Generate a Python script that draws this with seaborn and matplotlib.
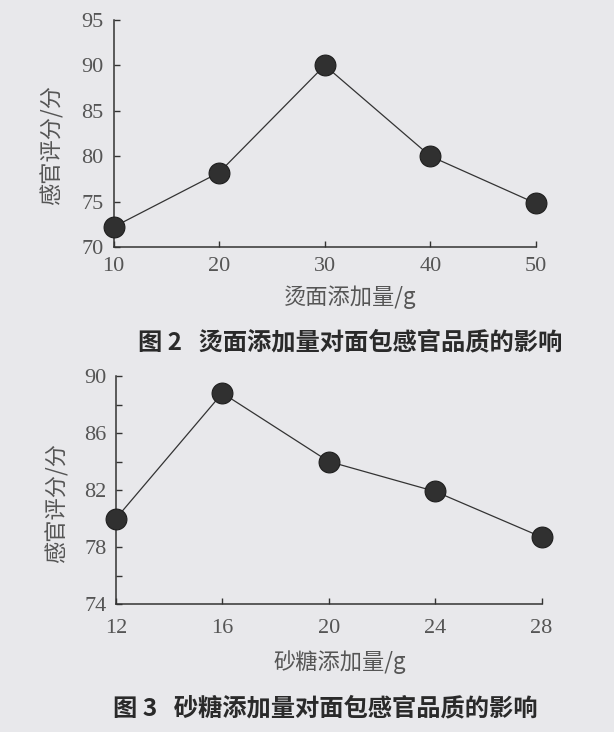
import numpy as np
import pandas as pd
import seaborn as sns
import matplotlib.pyplot as plt

# 图2 烫面添加量 vs 感官评分
hot_dough = [10, 20, 30, 40, 50]
score_hot = [72.2, 78.2, 90.0, 80.0, 74.8]
hot_yticks = [70, 75, 80, 85, 90, 95]

# 图3 砂糖添加量 vs 感官评分
sugar = [12, 16, 20, 24, 28]
score_sugar = [80.0, 88.8, 84.0, 81.9, 78.7]
sugar_yticks = [74, 78, 82, 86, 90]
sugar_minor = [76, 80, 84, 88]

xlabels = ["烫面添加量/g", "砂糖添加量/g"]
ylabel = "感官评分/分"
captions = ["图 2   烫面添加量对面包感官品质的影响", "图 3   砂糖添加量对面包感官品质的影响"]

bg = "#e8e8eb"
sns.set_style("ticks")
plt.rcParams['font.family'] = ['Noto Sans CJK SC', 'DejaVu Sans']

fig = plt.figure(figsize=(6.14, 7.32), dpi=100, facecolor=bg)
W, H = 614, 732

def make_axes(left, right, top, bottom):
    return fig.add_axes([left / W, 1 - bottom / H, (right - left) / W, (bottom - top) / H])

ax1 = make_axes(113.5, 536, 20, 247)
ax2 = make_axes(116, 541.5, 376, 604)

df1 = pd.DataFrame({"x": hot_dough, "y": score_hot})
df2 = pd.DataFrame({"x": sugar, "y": score_sugar})

for ax, df in [(ax1, df1), (ax2, df2)]:
    ax.set_facecolor(bg)
    sns.lineplot(data=df, x="x", y="y", ax=ax, color="#333333", linewidth=0.9,
                 marker="o", markersize=15, markerfacecolor="#303030",
                 markeredgecolor="#1e1e1e", markeredgewidth=0.8, clip_on=False, zorder=3)
    for s in ["top", "right"]:
        ax.spines[s].set_visible(False)
    for s in ["left", "bottom"]:
        ax.spines[s].set_color("#333333")
        ax.spines[s].set_linewidth(1.1)
    ax.tick_params(direction="in", length=4, width=1, color="#333333",
                   labelsize=16, labelcolor="#555555")
    ax.tick_params(axis="y", pad=7)
    ax.set_xlabel("")
    ax.set_ylabel("")

ax1.set_xlim(10, 50)
ax1.set_ylim(70, 95)
ax1.set_xticks(hot_dough)
ax1.set_yticks(hot_yticks)
ax1.tick_params(axis="x", pad=7.5)

ax2.set_xlim(12, 28)
ax2.set_ylim(74, 90)
ax2.set_xticks(sugar)
ax2.set_yticks(sugar_yticks)
ax2.set_yticks(sugar_minor, minor=True)
ax2.tick_params(axis="y", which="minor", direction="in", length=4, width=1, color="#333333")
ax2.tick_params(axis="x", pad=11)

for ax in [ax1, ax2]:
    for lab in ax.get_xticklabels() + ax.get_yticklabels():
        lab.set_family("Liberation Serif")

# axis titles and captions
fig.text(350 / W, 1 - 297 / H, xlabels[0], ha="center", va="center", fontsize=16, color="#555555")
fig.text(340 / W, 1 - 662 / H, xlabels[1], ha="center", va="center", fontsize=16, color="#555555")
fig.text(52 / W, 1 - 145 / H, ylabel, ha="center", va="center", rotation=90, fontsize=16, color="#555555")
fig.text(57 / W, 1 - 503 / H, ylabel, ha="center", va="center", rotation=90, fontsize=16, color="#555555")
fig.text(350 / W, 1 - 342 / H, captions[0], ha="center", va="center", fontsize=17.5,
         fontweight="bold", color="#2a2a2a")
fig.text(325 / W, 1 - 708 / H, captions[1], ha="center", va="center", fontsize=17.5,
         fontweight="bold", color="#2a2a2a")

fig.savefig("out.png", dpi=100, facecolor=bg)
